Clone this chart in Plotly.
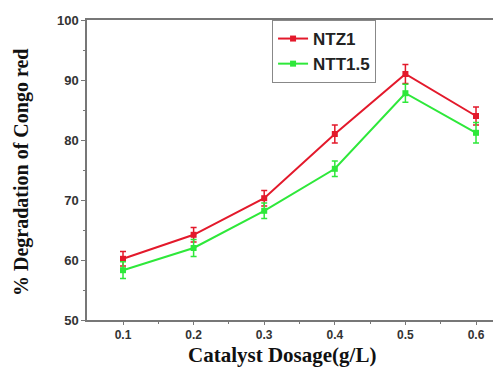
import plotly.graph_objects as go

dosage = [0.1, 0.2, 0.3, 0.4, 0.5, 0.6]
ntz1 = [60.2, 64.2, 70.3, 81.0, 91.0, 84.0]
ntz1_err = [1.2, 1.2, 1.3, 1.5, 1.6, 1.5]
ntt15 = [58.3, 62.0, 68.2, 75.2, 87.8, 81.2]
ntt15_err = [1.4, 1.4, 1.3, 1.3, 1.5, 1.7]

red = "#e3192b"
green = "#2ee83a"

fig = go.Figure()
fig.add_trace(go.Scatter(
    x=dosage, y=ntz1, name="<b>NTZ1</b>", mode="lines+markers",
    line=dict(color=red, width=2),
    marker=dict(color=red, size=6, symbol="square"),
    error_y=dict(type="data", array=ntz1_err, color=red, thickness=1.5, width=3),
))
fig.add_trace(go.Scatter(
    x=dosage, y=ntt15, name="<b>NTT1.5</b>", mode="lines+markers",
    line=dict(color=green, width=2),
    marker=dict(color=green, size=6, symbol="square"),
    error_y=dict(type="data", array=ntt15_err, color=green, thickness=1.5, width=3),
))

xtickfont = dict(family="Arial", size=12, color="#333", weight="bold")
ytickfont = dict(family="Arial", size=13, color="#333", weight="bold")

fig.update_layout(
    width=501, height=367,
    margin=dict(l=79, r=8, t=12, b=55),
    plot_bgcolor="white", paper_bgcolor="white",
    showlegend=True,
    legend=dict(
        x=0.447, y=1, xanchor="left", yanchor="top",
        bgcolor="white", bordercolor="#888", borderwidth=1,
        font=dict(family="Arial", size=17, color="#222"),
        tracegroupgap=0, itemwidth=30,
    ),
    xaxis=dict(
        range=[0.049, 0.6354], automargin=False,
        tickvals=dosage, ticktext=[f"{v:.1f}" for v in dosage],
        showgrid=False, zeroline=False,
        showline=True, linecolor="#777", linewidth=1.5, mirror=True,
        ticks="outside", ticklen=3, tickcolor="#777",
        minor=dict(tickvals=[0.15, 0.25, 0.35, 0.45, 0.55], ticks="outside", ticklen=2, tickcolor="#777"),
        tickfont=xtickfont,
    ),
    yaxis=dict(
        range=[50, 100], automargin=False,
        tickvals=[50, 60, 70, 80, 90, 100],
        showgrid=False, zeroline=False,
        showline=True, linecolor="#777", linewidth=1.5,
        ticks="outside", ticklen=4, tickcolor="#777",
        minor=dict(tickvals=[55, 65, 75, 85, 95], ticks="outside", ticklen=2, tickcolor="#777"),
        tickfont=ytickfont,
    ),
    annotations=[
        dict(text="<b>Catalyst Dosage(g/L)</b>", xref="paper", yref="paper",
             x=0.47, y=0, yshift=-35, xanchor="center", yanchor="middle", showarrow=False,
             font=dict(family="Liberation Serif, Times New Roman", size=21, color="#111")),
        dict(text="<b>% Degradation of Congo red</b>", xref="paper", yref="paper",
             x=0, xshift=-66, y=0.49, xanchor="center", yanchor="middle", textangle=-90, showarrow=False,
             font=dict(family="Liberation Serif, Times New Roman", size=20, color="#111")),
    ],
)

fig.write_html("out.html")
